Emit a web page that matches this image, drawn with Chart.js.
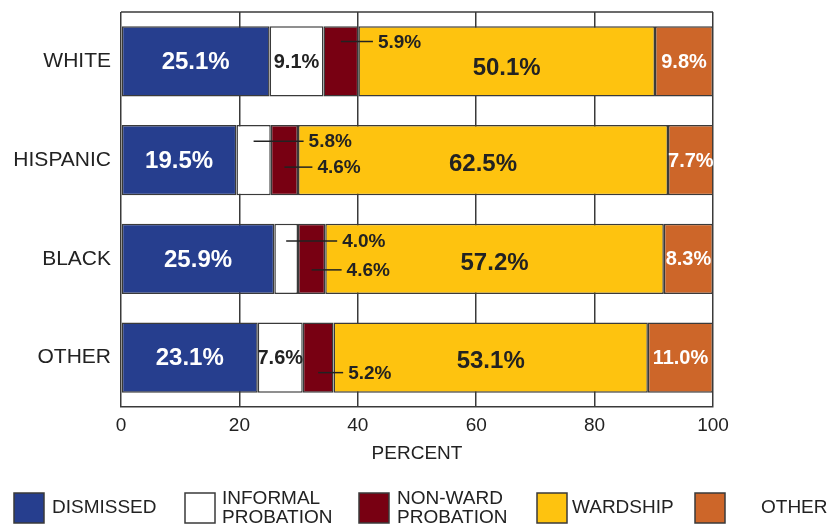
<!DOCTYPE html>
<html>
<head>
<meta charset="utf-8">
<script src="https://cdn.jsdelivr.net/npm/chart.js@4/dist/chart.umd.min.js"></script>
<style>
  body { margin: 0; background: #fff; }
  #wrap { width: 828px; height: 525px; position: relative; }
</style>
</head>
<body>
<div id="wrap"><canvas id="theChart"></canvas></div>
<script>
const groups = ["WHITE", "HISPANIC", "BLACK", "OTHER"]
const dismissed = [25.1, 19.5, 25.9, 23.1]
const informal = [9.1, 5.8, 4.0, 7.6]
const nonWard = [5.9, 4.6, 4.6, 5.2]
const wardship = [50.1, 62.5, 57.2, 53.1]
const other = [9.8, 7.7, 8.3, 11.0]
const xTicks = [0, 20, 40, 60, 80, 100]

const seriesNames = [["DISMISSED"], ["INFORMAL", "PROBATION"], ["NON-WARD", "PROBATION"], ["WARDSHIP"], ["OTHER"]]
const seriesColors = ["#263e8e", "#ffffff", "#780012", "#fec30f", "#cd6629"]
const FONT = "'Liberation Sans', Arial, sans-serif"
const INK = "#222"
const EDGE = "#3a3a3a"

// how the value labels look for each series
const labelStyle = [
  { size: 24, color: "#fff" },
  { size: 20, color: INK },
  { size: 19, color: INK },
  { size: 24, color: INK },
  { size: 20, color: "#fff" },
]
// small segments get a leader line instead (dataset-index : {dy, len})
const callouts = {
  "2-0": { dy: -20, len: 32 },
  "1-1": { dy: -19, len: 50 },
  "2-1": { dy: 7, len: 28 },
  "1-2": { dy: -18, len: 51 },
  "2-2": { dy: 11, len: 30 },
  "2-3": { dy: 15, len: 25 },
}
const wardshipShift = [7, 4, 4, 4]

// legend placement
const legendX = [14, 185, 359, 537, 695]
const legendTextX = [52, 222, 397, 572, 761]

let seriesData = [dismissed, informal, nonWard, wardship, other]

let valueLabels = {
  id: "valueLabels",
  afterDatasetsDraw(chart) {
    let ctx = chart.ctx
    ctx.save()
    chart.data.datasets.forEach((ds, di) => {
      let meta = chart.getDatasetMeta(di)
      meta.data.forEach((bar, i) => {
        let txt = ds.data[i].toFixed(1) + "%"
        let cx = (bar.x + bar.base) / 2
        let key = di + "-" + i
        let st = labelStyle[di]
        if (callouts[key]) {
          let c = callouts[key]
          let y = bar.y + c.dy
          ctx.strokeStyle = "#222"
          ctx.lineWidth = 1.5
          ctx.beginPath()
          ctx.moveTo(cx, y)
          ctx.lineTo(cx + c.len, y)
          ctx.stroke()
          ctx.font = "bold 19px " + FONT
          ctx.fillStyle = INK
          ctx.textAlign = "left"
          ctx.textBaseline = "middle"
          ctx.fillText(txt, cx + c.len + 5, y + 1)
        } else {
          let dy = di == 3 ? wardshipShift[i] : 1
          ctx.font = "bold " + st.size + "px " + FONT
          ctx.fillStyle = st.color
          ctx.textAlign = "center"
          ctx.textBaseline = "middle"
          ctx.fillText(txt, cx, bar.y + dy)
        }
      })
    })
    ctx.restore()
  },
}

let frameAndLegend = {
  id: "frameAndLegend",
  afterDraw(chart) {
    let ctx = chart.ctx
    let area = chart.chartArea
    ctx.save()
    ctx.strokeStyle = EDGE
    ctx.lineWidth = 1.5
    ctx.beginPath()
    ctx.moveTo(area.left, area.top)
    ctx.lineTo(area.right, area.top)
    ctx.stroke()

    ctx.font = "19px " + FONT
    ctx.textBaseline = "middle"
    ctx.textAlign = "left"
    seriesNames.forEach((lines, k) => {
      ctx.fillStyle = seriesColors[k]
      ctx.fillRect(legendX[k], 493, 30, 30)
      ctx.strokeStyle = EDGE
      ctx.strokeRect(legendX[k], 493, 30, 30)
      ctx.fillStyle = INK
      if (lines.length == 1) {
        ctx.fillText(lines[0], legendTextX[k], 508)
      } else {
        ctx.fillText(lines[0], legendTextX[k], 499)
        ctx.fillText(lines[1], legendTextX[k], 518)
      }
    })
    ctx.restore()
  },
}

let chart = document.getElementById("theChart").getContext("2d")

let currentChart = new Chart(chart, {
  type: "bar",
  data: {
    labels: groups,
    datasets: seriesData.map((vals, k) => ({
      label: seriesNames[k].join(" "),
      data: vals,
      backgroundColor: seriesColors[k],
      borderColor: EDGE,
      borderWidth: 1.5,
      borderSkipped: false,
      barPercentage: 0.71,
      categoryPercentage: 1,
    })),
  },
  options: {
    indexAxis: "y",
    responsive: true,
    maintainAspectRatio: false,
    animation: false,
    layout: { padding: { top: 12, right: 115, left: 0, bottom: 58 } },
    plugins: {
      legend: { display: false },
      tooltip: { enabled: false },
    },
    scales: {
      x: {
        stacked: true,
        min: 0,
        max: 100,
        afterBuildTicks: (scale) => { scale.ticks = xTicks.map(v => ({ value: v })) },
        afterFit: (scale) => { scale.height = 60 },
        grid: { color: EDGE, lineWidth: 1.5, drawTicks: false },
        border: { display: true, color: EDGE, width: 1.5 },
        ticks: { color: INK, font: { family: FONT, size: 19 }, padding: 7 },
        title: { display: true, text: "PERCENT", color: INK, font: { family: FONT, size: 19 }, padding: { top: 0, bottom: 2 } },
      },
      y: {
        stacked: true,
        afterFit: (scale) => {
          scale.width = 121
          scale.paddingTop = 0
          scale.paddingBottom = 0
        },
        grid: { display: false, drawTicks: false },
        border: { display: false },
        ticks: { color: INK, font: { family: FONT, size: 21 }, padding: 10 },
      },
    },
  },
  plugins: [valueLabels, frameAndLegend],
})
</script>
</body>
</html>
